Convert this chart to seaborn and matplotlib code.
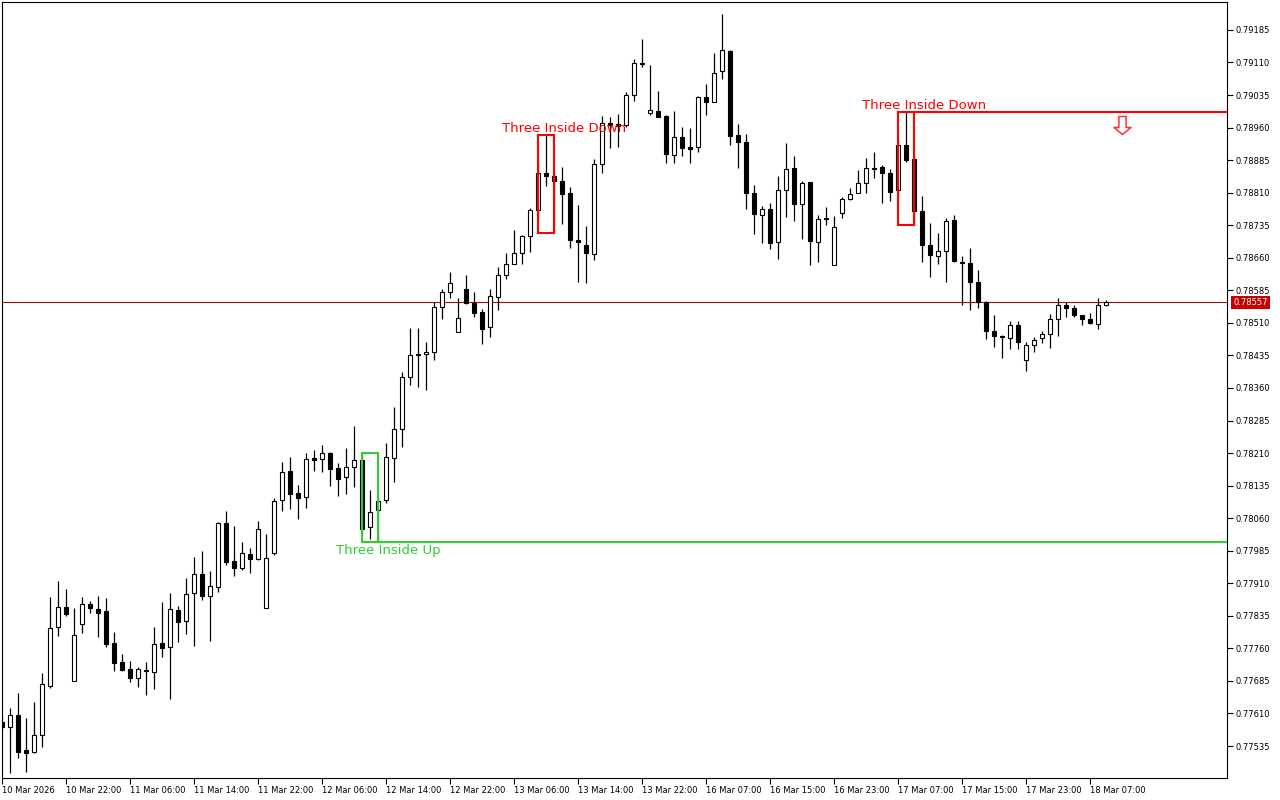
import matplotlib
matplotlib.use("Agg")
import matplotlib.pyplot as plt
import matplotlib.transforms as mtransforms
from matplotlib.path import Path
from matplotlib.patches import Rectangle
import numpy as np
import pandas as pd
import seaborn as sns

# ---------------- data (EURUSD-like H1 candles) ----------------
open_prices = [
    0.77590, 0.77579, 0.77606, 0.77526, 0.77521, 0.77560, 0.77673, 0.77809, 0.77855, 0.77685,
    0.77816, 0.77862, 0.77851, 0.77846, 0.77772, 0.77729, 0.77712, 0.77692, 0.77710, 0.77706,
    0.77772, 0.77763, 0.77848, 0.77823, 0.77888, 0.77931, 0.77881, 0.77901, 0.78049, 0.77961,
    0.77945, 0.77977, 0.77966, 0.77853, 0.77980, 0.78102, 0.78169, 0.78118, 0.78109, 0.78199,
    0.78196, 0.78210, 0.78176, 0.78155, 0.78178, 0.78194, 0.78040, 0.78079, 0.78102, 0.78199,
    0.78266, 0.78385, 0.78438, 0.78438, 0.78443, 0.78547, 0.78581, 0.78489, 0.78588, 0.78556,
    0.78535, 0.78501, 0.78570, 0.78620, 0.78646, 0.78671, 0.78710, 0.78770, 0.78855, 0.78848,
    0.78837, 0.78809, 0.78701, 0.78689, 0.78669, 0.78876, 0.78971, 0.78968, 0.78966, 0.79035,
    0.79109, 0.78994, 0.78998, 0.78987, 0.78897, 0.78938, 0.78915, 0.78915, 0.79031, 0.79019,
    0.79090, 0.79137, 0.78943, 0.78927, 0.78809, 0.78759, 0.78772, 0.78696, 0.78816, 0.78867,
    0.78784, 0.78835, 0.78696, 0.78752, 0.78643, 0.78763, 0.78795, 0.78809, 0.78832, 0.78865,
    0.78869, 0.78855, 0.78816, 0.78920, 0.78888, 0.78768, 0.78689, 0.78664, 0.78676, 0.78747,
    0.78650, 0.78648, 0.78604, 0.78558, 0.78491, 0.78480, 0.78475, 0.78505, 0.78425, 0.78459,
    0.78475, 0.78484, 0.78519, 0.78551, 0.78544, 0.78528, 0.78519, 0.78507, 0.78551,
]
high_prices = [
    0.77604, 0.77623, 0.77657, 0.77600, 0.77636, 0.77703, 0.77878, 0.77915, 0.77897, 0.77853,
    0.77878, 0.77869, 0.77881, 0.77876, 0.77798, 0.77747, 0.77731, 0.77717, 0.77729, 0.77809,
    0.77867, 0.77888, 0.77858, 0.77922, 0.77971, 0.77984, 0.77938, 0.78051, 0.78077, 0.78042,
    0.78005, 0.77991, 0.78054, 0.78024, 0.78107, 0.78189, 0.78201, 0.78136, 0.78210, 0.78217,
    0.78229, 0.78213, 0.78187, 0.78222, 0.78272, 0.78210, 0.78125, 0.78107, 0.78233, 0.78316,
    0.78397, 0.78498, 0.78498, 0.78466, 0.78558, 0.78588, 0.78627, 0.78567, 0.78620, 0.78581,
    0.78542, 0.78588, 0.78639, 0.78671, 0.78724, 0.78713, 0.78775, 0.78883, 0.78943, 0.78858,
    0.78869, 0.78823, 0.78782, 0.78733, 0.78888, 0.78987, 0.78984, 0.78991, 0.79042, 0.79118,
    0.79164, 0.79104, 0.79044, 0.78989, 0.78998, 0.78961, 0.78959, 0.79032, 0.79060, 0.79132,
    0.79222, 0.79139, 0.78968, 0.78945, 0.78828, 0.78779, 0.78786, 0.78848, 0.78925, 0.78895,
    0.78837, 0.78835, 0.78759, 0.78777, 0.78756, 0.78800, 0.78821, 0.78862, 0.78890, 0.78904,
    0.78874, 0.78865, 0.78934, 0.78996, 0.78901, 0.78802, 0.78740, 0.78717, 0.78752, 0.78759,
    0.78664, 0.78683, 0.78632, 0.78560, 0.78528, 0.78482, 0.78514, 0.78514, 0.78466, 0.78478,
    0.78491, 0.78530, 0.78567, 0.78558, 0.78551, 0.78528, 0.78533, 0.78567, 0.78563,
]
low_prices = [
    0.77572, 0.77473, 0.77507, 0.77475, 0.77519, 0.77533, 0.77669, 0.77789, 0.77835, 0.77685,
    0.77795, 0.77842, 0.77786, 0.77763, 0.77708, 0.77708, 0.77683, 0.77671, 0.77653, 0.77666,
    0.77740, 0.77643, 0.77775, 0.77793, 0.77765, 0.77871, 0.77777, 0.77890, 0.77952, 0.77927,
    0.77941, 0.77934, 0.77964, 0.77853, 0.77975, 0.78077, 0.78081, 0.78058, 0.78083, 0.78169,
    0.78166, 0.78134, 0.78111, 0.78116, 0.78132, 0.78021, 0.78012, 0.78005, 0.78095, 0.78143,
    0.78224, 0.78367, 0.78362, 0.78355, 0.78425, 0.78519, 0.78567, 0.78489, 0.78554, 0.78524,
    0.78461, 0.78478, 0.78540, 0.78611, 0.78646, 0.78646, 0.78673, 0.78754, 0.78825, 0.78717,
    0.78738, 0.78683, 0.78604, 0.78602, 0.78655, 0.78855, 0.78913, 0.78915, 0.78961, 0.79021,
    0.79100, 0.78989, 0.78984, 0.78878, 0.78878, 0.78895, 0.78878, 0.78904, 0.78989, 0.79019,
    0.79072, 0.78920, 0.78867, 0.78772, 0.78715, 0.78694, 0.78680, 0.78657, 0.78754, 0.78745,
    0.78703, 0.78643, 0.78650, 0.78736, 0.78643, 0.78752, 0.78793, 0.78809, 0.78809, 0.78844,
    0.78786, 0.78791, 0.78800, 0.78881, 0.78736, 0.78650, 0.78616, 0.78646, 0.78604, 0.78650,
    0.78551, 0.78540, 0.78544, 0.78473, 0.78454, 0.78429, 0.78450, 0.78450, 0.78399, 0.78443,
    0.78464, 0.78452, 0.78480, 0.78524, 0.78524, 0.78505, 0.78507, 0.78496, 0.78549,
]
close_prices = [
    0.77579, 0.77606, 0.77521, 0.77519, 0.77560, 0.77678, 0.77807, 0.77855, 0.77839, 0.77791,
    0.77862, 0.77853, 0.77842, 0.77770, 0.77726, 0.77710, 0.77692, 0.77712, 0.77708, 0.77770,
    0.77761, 0.77851, 0.77821, 0.77885, 0.77931, 0.77881, 0.77904, 0.78049, 0.77959, 0.77945,
    0.77980, 0.77966, 0.78035, 0.77968, 0.78100, 0.78166, 0.78116, 0.78107, 0.78196, 0.78194,
    0.78210, 0.78173, 0.78150, 0.78178, 0.78194, 0.78035, 0.78074, 0.78100, 0.78201, 0.78266,
    0.78385, 0.78436, 0.78436, 0.78443, 0.78547, 0.78581, 0.78602, 0.78521, 0.78556, 0.78533,
    0.78496, 0.78572, 0.78620, 0.78646, 0.78671, 0.78710, 0.78770, 0.78855, 0.78848, 0.78837,
    0.78807, 0.78701, 0.78696, 0.78671, 0.78876, 0.78971, 0.78966, 0.78964, 0.79035, 0.79109,
    0.79107, 0.79001, 0.78985, 0.78899, 0.78938, 0.78913, 0.78911, 0.79031, 0.79019, 0.79086,
    0.79139, 0.78941, 0.78927, 0.78809, 0.78761, 0.78772, 0.78694, 0.78816, 0.78865, 0.78784,
    0.78832, 0.78699, 0.78749, 0.78749, 0.78731, 0.78795, 0.78807, 0.78832, 0.78867, 0.78867,
    0.78855, 0.78812, 0.78920, 0.78885, 0.78768, 0.78689, 0.78666, 0.78676, 0.78745, 0.78653,
    0.78648, 0.78604, 0.78558, 0.78491, 0.78480, 0.78478, 0.78505, 0.78466, 0.78459, 0.78471,
    0.78484, 0.78519, 0.78551, 0.78544, 0.78528, 0.78519, 0.78510, 0.78551, 0.78557,
]

x_tick_labels = [
    "10 Mar 2026", "10 Mar 22:00", "11 Mar 06:00", "11 Mar 14:00", "11 Mar 22:00",
    "12 Mar 06:00", "12 Mar 14:00", "12 Mar 22:00", "13 Mar 06:00", "13 Mar 14:00",
    "13 Mar 22:00", "16 Mar 07:00", "16 Mar 15:00", "16 Mar 23:00", "17 Mar 07:00",
    "17 Mar 15:00", "17 Mar 23:00", "18 Mar 07:00",
]
x_tick_step = 8  # one label every 8 bars

y_ticks = [
    0.77535, 0.77610, 0.77685, 0.77760, 0.77835, 0.77910, 0.77985, 0.78060,
    0.78135, 0.78210, 0.78285, 0.78360, 0.78435, 0.78510, 0.78585, 0.78660,
    0.78735, 0.78810, 0.78885, 0.78960, 0.79035, 0.79110, 0.79185,
]

# candlestick patterns: first bar index, name, colour, which edge is extended to the right
pattern_start = [45, 67, 112]
pattern_name = ["Three Inside Up", "Three Inside Down", "Three Inside Down"]
pattern_color = ["#32cd32", "#ff0000", "#ff0000"]
pattern_extend = ["low", None, "high"]

signal_index = 140
signal_price = 0.78966

# ---------------- style ----------------
sns.set_theme(style="white")
plt.rcParams["font.family"] = ["DejaVu Sans"]
plt.rcParams["text.color"] = "black"

df = pd.DataFrame({"open": open_prices, "high": high_prices,
                   "low": low_prices, "close": close_prices})
df["idx"] = np.arange(len(df))
bull = df["close"] >= df["open"]

W, H = 1280, 800
fig = plt.figure(figsize=(W / 100, H / 100), dpi=100)
fig.patch.set_facecolor("white")
ax = fig.add_axes([2 / W, 22 / H, 1225 / W, 776 / H])
ax.set_facecolor("white")

# wicks
ax.vlines(df["idx"], df["low"], df["high"], color="black", lw=0.9, zorder=2)
# bodies
body_bottom = df[["open", "close"]].min(axis=1)
body_height = (df["close"] - df["open"]).abs()
ax.bar(df["idx"], body_height, bottom=body_bottom, width=0.5,
       color=np.where(bull, "white", "black"), edgecolor="black",
       linewidth=0.8, zorder=3)

# axis limits (bar k sits at pixel 2.3 + 8k)
ax.set_xlim(-0.04, 153.09)
ax.set_ylim(0.774613, 0.792494)

# current price line + label
last = df["close"].iloc[-1]
ax.axhline(last, color="#a01010", lw=0.8, zorder=1)
trans = mtransforms.blended_transform_factory(ax.transAxes, ax.transData)
ax.text(1.0 + 6 / 1225, last, f"{last:.5f}", transform=trans, ha="left",
        va="center", fontsize=6, color="white", clip_on=False,
        bbox=dict(boxstyle="square,pad=0.25", fc="#c80000", ec="none"))

# patterns
xmax = ax.get_xlim()[1]
for start, name, col, ext in zip(pattern_start, pattern_name, pattern_color, pattern_extend):
    seg = df.iloc[start:start + 3]
    top, bot = seg["high"].max(), seg["low"].min()
    ax.add_patch(Rectangle((start, bot), 2, top - bot, fill=False,
                           edgecolor=col, lw=1.5, zorder=4))
    if ext == "low":
        ax.hlines(bot, start + 2, xmax, color=col, lw=1.5, zorder=4)
    elif ext == "high":
        ax.hlines(top, start + 2, xmax, color=col, lw=1.5, zorder=4)
    if ext == "low" or (ext is None and col == "#32cd32"):
        ax.annotate(name, xy=(start + 1 + 2.25, bot), xytext=(0, -6),
                    textcoords="offset points", ha="center", va="center",
                    color=col, fontsize=9.5, zorder=5)
    else:
        ax.annotate(name, xy=(start + 1 + 2.25, top), xytext=(0, 5),
                    textcoords="offset points", ha="center", va="center",
                    color=col, fontsize=9.5, zorder=5)

# sell signal arrow (hollow down arrow marker)
arrow_verts = [(-0.2, 0.5), (0.2, 0.5), (0.2, -0.11), (0.47, -0.11), (0.0, -0.5),
               (-0.47, -0.11), (-0.2, -0.11), (-0.2, 0.5)]
arrow_path = Path(arrow_verts, [Path.MOVETO] + [Path.LINETO] * 6 + [Path.CLOSEPOLY])
ax.plot([signal_index], [signal_price], marker=arrow_path, markersize=13,
        markerfacecolor="white", markeredgecolor="#ff3030", markeredgewidth=1.1,
        linestyle="none", zorder=5)

# ticks
ax.set_xticks(np.arange(len(x_tick_labels)) * x_tick_step)
ax.set_xticklabels(x_tick_labels)
for lbl in ax.get_xticklabels():
    lbl.set_ha("left")
ax.yaxis.tick_right()
ax.set_yticks(y_ticks)
ax.set_yticklabels([f"{v:.5f}" for v in y_ticks])
ax.tick_params(axis="x", bottom=True, direction="out", length=4, width=0.8,
               color="black", labelsize=6, labelcolor="black", pad=1.5)
ax.tick_params(axis="y", right=True, left=False, direction="out", length=4,
               width=0.8, color="black", labelsize=6, labelcolor="black", pad=2)
for s in ax.spines.values():
    s.set_visible(True)
    s.set_color("black")
    s.set_linewidth(0.8)
ax.grid(False)

fig.savefig("out.png", dpi=100, facecolor="white")
